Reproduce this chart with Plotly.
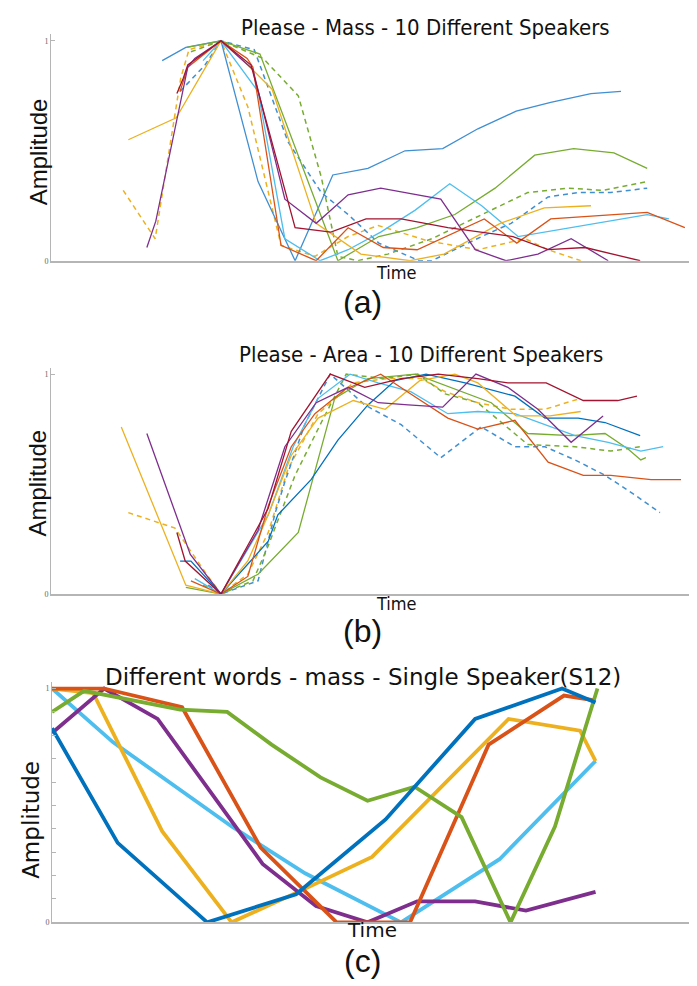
import plotly.graph_objects as go

# ---------------- Panel (a): Please - Mass ----------------
A_BLUE_T = [17.4, 21.1, 26.6, 32.4, 38.2, 44.1, 49.6, 55.4, 61.3, 66.8, 72.8, 78.2, 84.5, 89.2]
A_BLUE_Y = [0.91, 0.97, 1.0, 0.36, 0.0, 0.39, 0.42, 0.50, 0.51, 0.60, 0.68, 0.72, 0.76, 0.77]
A_RED_T = [20.2, 21.4, 26.6, 30.7, 31.6, 36.0, 41.5, 46.5, 52.0, 57.3, 67.8, 72.9, 78.2, 93.3, 99.2]
A_RED_Y = [0.77, 0.88, 1.0, 0.92, 0.88, 0.07, 0.0, 0.15, 0.06, 0.05, 0.19, 0.08, 0.19, 0.22, 0.15]
A_DARKRED_T = [19.7, 20.7, 21.4, 26.6, 31.3, 36.9, 38.2, 43.8, 49.3, 54.8, 62.1, 72.3, 77.8, 83.6, 92.2]
A_DARKRED_Y = [0.76, 0.83, 0.89, 1.0, 0.89, 0.28, 0.15, 0.13, 0.19, 0.19, 0.15, 0.11, 0.05, 0.06, 0.0]
A_PURPLE_T = [15.0, 16.4, 21.4, 22.5, 26.6, 31.6, 36.6, 41.5, 46.5, 51.6, 61.0, 66.4, 71.2, 76.2, 81.4, 87.2]
A_PURPLE_Y = [0.06, 0.18, 0.88, 0.92, 1.0, 0.87, 0.28, 0.17, 0.30, 0.33, 0.28, 0.05, 0.0, 0.03, 0.10, 0.0]
A_YELLOW_T = [12.1, 19.6, 26.6, 30.8, 34.6, 41.5, 48.5, 56.2, 61.5, 70.3, 77.2, 84.5]
A_YELLOW_Y = [0.55, 0.65, 1.0, 0.89, 0.78, 0.17, 0.03, 0.0, 0.03, 0.17, 0.24, 0.25]
A_CYAN_T = [23.8, 26.6, 32.4, 36.6, 42.1, 46.5, 51.6, 57.0, 62.4, 67.4, 73.1, 77.2, 93.3, 96.7]
A_CYAN_Y = [0.91, 1.0, 0.77, 0.10, 0.0, 0.05, 0.13, 0.23, 0.35, 0.25, 0.11, 0.13, 0.21, 0.19]
A_GREEN_T = [21.3, 26.6, 32.7, 44.9, 51.3, 57.3, 63.2, 69.5, 75.7, 81.8, 88.1, 93.3]
A_GREEN_Y = [0.97, 1.0, 0.94, 0.0, 0.11, 0.15, 0.21, 0.33, 0.48, 0.51, 0.49, 0.42]
A_YELLOW_D_T = [11.3, 16.3, 20.3, 21.6, 26.6, 30.8, 36.0, 41.3, 46.5, 51.2, 59.0, 66.8, 74.2, 77.8, 82.9]
A_YELLOW_D_Y = [0.32, 0.10, 0.83, 0.96, 1.0, 0.70, 0.07, 0.02, 0.11, 0.16, 0.09, 0.05, 0.10, 0.05, 0.0]
A_BLUE_D_T = [20.2, 24.1, 26.6, 31.8, 37.1, 42.3, 46.5, 51.3, 57.6, 59.6, 67.4, 72.0, 77.8, 82.5, 87.6, 93.3]
A_BLUE_D_Y = [0.77, 0.89, 1.0, 0.96, 0.54, 0.31, 0.21, 0.08, 0.0, 0.0, 0.11, 0.17, 0.29, 0.31, 0.31, 0.33]
A_GREEN_D_T = [21.9, 26.6, 33.2, 38.7, 42.3, 44.9, 48.0, 52.7, 59.6, 67.4, 74.6, 80.9, 86.4, 93.3]
A_GREEN_D_Y = [0.95, 1.0, 0.92, 0.75, 0.38, 0.02, 0.0, 0.03, 0.10, 0.21, 0.31, 0.33, 0.32, 0.36]

# ---------------- Panel (b): Please - Area ----------------
B_YELLOW_T = [11.0, 21.1, 26.6, 30.8, 34.0, 37.6, 41.8, 47.3, 52.3, 57.7, 63.2, 66.8, 72.8, 78.1, 82.9]
B_YELLOW_Y = [0.76, 0.04, 0.0, 0.15, 0.36, 0.63, 0.80, 0.88, 0.84, 0.97, 1.0, 0.96, 0.81, 0.81, 0.83]
B_PURPLE_T = [15.0, 21.8, 26.6, 32.4, 36.6, 41.5, 46.5, 51.2, 55.9, 61.3, 66.5, 71.5, 76.2, 81.4, 86.4]
B_PURPLE_Y = [0.73, 0.18, 0.0, 0.29, 0.67, 0.87, 0.94, 0.87, 0.86, 0.85, 1.0, 0.94, 0.84, 0.69, 0.81]
B_DARKRED_T = [19.7, 21.0, 26.6, 34.0, 37.6, 43.7, 49.1, 54.8, 60.6, 66.8, 71.5, 77.5, 83.3, 88.7, 91.7]
B_DARKRED_Y = [0.28, 0.15, 0.0, 0.39, 0.74, 1.0, 0.94, 0.98, 1.0, 0.98, 0.96, 0.96, 0.88, 0.88, 0.90]
B_BLUE_T = [20.2, 21.9, 26.6, 34.0, 35.5, 40.7, 44.9, 49.6, 53.8, 58.7, 64.8, 72.6, 77.3, 82.5, 86.7, 90.6, 92.2]
B_BLUE_Y = [0.15, 0.15, 0.0, 0.24, 0.36, 0.52, 0.70, 0.86, 0.97, 1.0, 0.96, 0.90, 0.80, 0.80, 0.78, 0.74, 0.72]
B_CYAN_T = [22.5, 26.6, 34.0, 37.9, 41.8, 46.8, 51.2, 56.3, 62.1, 66.8, 72.6, 77.3, 82.0, 87.2, 92.3, 95.8]
B_CYAN_Y = [0.07, 0.0, 0.36, 0.67, 0.89, 1.0, 0.96, 0.92, 0.82, 0.83, 0.82, 0.77, 0.72, 0.69, 0.65, 0.67]
B_RED_T = [21.9, 26.6, 30.8, 34.0, 37.6, 41.3, 46.0, 51.6, 56.3, 62.1, 66.8, 72.6, 77.8, 83.3, 87.6, 93.9, 98.6]
B_RED_Y = [0.06, 0.0, 0.08, 0.40, 0.67, 0.82, 0.93, 1.0, 0.91, 0.80, 0.75, 0.79, 0.60, 0.54, 0.54, 0.52, 0.52]
B_GREEN_T = [21.1, 26.6, 32.4, 38.7, 44.4, 49.6, 57.0, 66.8, 68.9, 74.6, 81.4, 86.7, 90.3, 92.3, 93.1]
B_GREEN_Y = [0.03, 0.0, 0.09, 0.28, 0.89, 0.98, 1.0, 0.89, 0.87, 0.73, 0.72, 0.73, 0.66, 0.61, 0.62]
B_YELLOW_D_T = [12.1, 19.4, 24.1, 26.6, 30.8, 34.0, 37.1, 41.8, 47.3, 52.7, 57.9, 61.7, 66.8, 72.0, 77.3, 82.9]
B_YELLOW_D_Y = [0.37, 0.30, 0.10, 0.0, 0.09, 0.28, 0.57, 0.82, 0.96, 0.98, 0.98, 0.92, 0.87, 0.84, 0.84, 0.89]
B_BLUE_D_T = [24.6, 26.6, 32.4, 35.1, 36.6, 39.7, 43.7, 49.1, 54.8, 61.0, 67.3, 72.6, 77.3, 82.0, 86.7, 91.4, 95.3]
B_BLUE_D_Y = [0.04, 0.0, 0.06, 0.37, 0.51, 0.77, 1.0, 0.86, 0.77, 0.62, 0.76, 0.67, 0.67, 0.61, 0.54, 0.45, 0.37]
B_GREEN_D_T = [23.8, 26.6, 31.6, 34.0, 38.2, 42.3, 46.2, 52.0, 57.4, 61.7, 66.8, 74.6, 82.0, 87.6, 92.3]
B_GREEN_D_Y = [0.04, 0.0, 0.06, 0.22, 0.54, 0.78, 1.0, 0.98, 1.0, 0.91, 0.87, 0.68, 0.67, 0.65, 0.67]

# ---------------- Panel (c): Different words - mass - S12 ----------------
C_BLUE_T = [0, 10.2, 24.1, 37.9, 51.8, 65.7, 79.2, 84.4]
C_BLUE_Y = [0.83, 0.34, 0.0, 0.12, 0.44, 0.87, 1.0, 0.94]
C_RED_T = [0, 8.1, 20.2, 32.4, 44.2, 55.6, 67.8, 79.5, 84.0]
C_RED_Y = [1.0, 1.0, 0.92, 0.32, 0.0, 0.0, 0.76, 0.97, 0.95]
C_YELLOW_T = [0, 6.4, 17.1, 27.9, 39.0, 49.7, 70.9, 82.0, 84.4]
C_YELLOW_Y = [1.0, 0.98, 0.39, 0.0, 0.14, 0.28, 0.87, 0.82, 0.69]
C_PURPLE_T = [0, 8.1, 16.4, 32.7, 41.0, 49.0, 56.7, 65.7, 73.6, 81.9, 84.4]
C_PURPLE_Y = [0.81, 1.0, 0.87, 0.25, 0.07, 0.0, 0.09, 0.09, 0.05, 0.11, 0.13]
C_GREEN_T = [0, 5.0, 19.9, 27.2, 34.1, 41.7, 49.0, 56.3, 63.6, 71.2, 78.1, 84.7]
C_GREEN_Y = [0.90, 0.99, 0.91, 0.90, 0.76, 0.62, 0.52, 0.58, 0.45, 0.0, 0.41, 1.0]
C_CYAN_T = [0, 9.5, 27.9, 39.3, 54.2, 69.5, 84.4]
C_CYAN_Y = [1.0, 0.77, 0.41, 0.21, 0.0, 0.27, 0.69]

TITLES = ["Please - Mass - 10 Different Speakers",
          "Please - Area - 10 Different Speakers",
          "Different words - mass - Single Speaker(S12)"]
PANEL_LABELS = ["(a)", "(b)", "(c)"]

BLUE, RED, YELLOW, PURPLE = "#0072BD", "#D95319", "#EDB120", "#7E2F8E"
GREEN, CYAN, DARKRED = "#77AC30", "#4DBEEE", "#A2142F"
LBLUE = "#3f8fd2"

fig = go.Figure()

def add(t, y, color, ax, width=1.3, dash="solid"):
    fig.add_trace(go.Scatter(x=t, y=y, mode="lines", xaxis="x" + ax, yaxis="y" + ax,
                             line=dict(color=color, width=width, dash=dash),
                             hoverinfo="skip", showlegend=False))

DASH = "5px,4px"
# panel a
add(A_YELLOW_D_T, A_YELLOW_D_Y, YELLOW, "", 1.5, DASH)
add(A_BLUE_D_T, A_BLUE_D_Y, LBLUE, "", 1.5, DASH)
add(A_GREEN_D_T, A_GREEN_D_Y, GREEN, "", 1.5, DASH)
add(A_BLUE_T, A_BLUE_Y, LBLUE, "")
add(A_GREEN_T, A_GREEN_Y, GREEN, "")
add(A_CYAN_T, A_CYAN_Y, CYAN, "")
add(A_YELLOW_T, A_YELLOW_Y, YELLOW, "")
add(A_RED_T, A_RED_Y, RED, "")
add(A_PURPLE_T, A_PURPLE_Y, PURPLE, "")
add(A_DARKRED_T, A_DARKRED_Y, DARKRED, "")
# panel b
add(B_YELLOW_D_T, B_YELLOW_D_Y, YELLOW, "2", 1.5, DASH)
add(B_BLUE_D_T, B_BLUE_D_Y, LBLUE, "2", 1.5, DASH)
add(B_GREEN_D_T, B_GREEN_D_Y, GREEN, "2", 1.5, DASH)
add(B_GREEN_T, B_GREEN_Y, GREEN, "2")
add(B_CYAN_T, B_CYAN_Y, CYAN, "2")
add(B_BLUE_T, B_BLUE_Y, BLUE, "2")
add(B_YELLOW_T, B_YELLOW_Y, YELLOW, "2")
add(B_RED_T, B_RED_Y, RED, "2")
add(B_PURPLE_T, B_PURPLE_Y, PURPLE, "2")
add(B_DARKRED_T, B_DARKRED_Y, DARKRED, "2")
# panel c
for t, y, c in [(C_CYAN_T, C_CYAN_Y, CYAN), (C_YELLOW_T, C_YELLOW_Y, YELLOW),
                (C_PURPLE_T, C_PURPLE_Y, PURPLE), (C_RED_T, C_RED_Y, RED),
                (C_GREEN_T, C_GREEN_Y, GREEN), (C_BLUE_T, C_BLUE_Y, BLUE)]:
    add(t, y, c, "3", 3.8)

W, H = 697, 986
def py(p):  # pixel row -> paper
    return 1 - p / H
def px(p):
    return p / W

axis_common = dict(showgrid=False, zeroline=False, showline=True, linecolor="#b5b5b5")
tickfont = dict(family="Liberation Serif, serif", size=8, color="#666")

layout = dict(width=W, height=H, margin=dict(l=0, r=0, t=0, b=0),
              paper_bgcolor="white", plot_bgcolor="white", showlegend=False)

# panel geometry: (x0, x1, y_zero_px, y_one_px)
geo = [(43, 682, 254, 33), (43, 682, 589, 368), (44, 688, 919, 684)]
for i, (x0, x1, y0, y1) in enumerate(geo):
    sfx = "" if i == 0 else str(i + 1)
    top = 1.03
    ytop_px = y0 - (y0 - y1) * top
    layout["xaxis" + sfx] = dict(axis_common, domain=[px(x0), px(x1)], range=[0, 100],
                                 showticklabels=False, ticks="", linewidth=2,
                                 anchor="y" + sfx)
    if i < 2:
        tv, tt = [0, 1], ["0", "1"]
    else:
        tv = [k / 10 for k in range(11)]
        tt = ["0"] + [""] * 9 + ["1"]
    layout["yaxis" + sfx] = dict(axis_common, domain=[py(y0), py(ytop_px)], range=[0, top],
                                 tickvals=tv, ticktext=tt, ticks="inside", ticklen=4,
                                 tickcolor="#b5b5b5", tickfont=tickfont, linewidth=1,
                                 anchor="x" + sfx)

ann = []
narrow = "Liberation Sans Narrow, DejaVu Sans Condensed, Arial Narrow, sans-serif"
# titles
ann.append(dict(text=TITLES[0], x=px(417), y=py(20), font=dict(family=narrow, size=22, color="#111")))
ann.append(dict(text=TITLES[1], x=px(413), y=py(348), font=dict(family=narrow, size=22, color="#111")))
ann.append(dict(text=TITLES[2], x=px(355), y=py(672), font=dict(family="DejaVu Sans, sans-serif", size=23, color="#111")))
# Amplitude labels
ann.append(dict(text="Amplitude", x=px(30), y=py(145), textangle=-90, font=dict(family="Liberation Sans, Arial, sans-serif", size=24, color="#111")))
ann.append(dict(text="Amplitude", x=px(30), y=py(478), textangle=-90, font=dict(family="Liberation Sans, Arial, sans-serif", size=24, color="#111")))
ann.append(dict(text="Amplitude", x=px(23), y=py(816), textangle=-90, font=dict(family="DejaVu Sans, sans-serif", size=23, color="#111")))
# Time labels
ann.append(dict(text="Time", x=px(388), y=py(266), font=dict(family=narrow, size=18, color="#111")))
ann.append(dict(text="Time", x=px(388), y=py(599), font=dict(family=narrow, size=18, color="#111")))
ann.append(dict(text="Time", x=px(364), y=py(927), font=dict(family="DejaVu Sans, sans-serif", size=20, color="#111")))
# panel letters
ann.append(dict(text=PANEL_LABELS[0], x=px(355), y=py(295), font=dict(family="Liberation Sans, Arial, sans-serif", size=32, color="#111")))
ann.append(dict(text=PANEL_LABELS[1], x=px(355), y=py(626), font=dict(family="Liberation Sans, Arial, sans-serif", size=32, color="#111")))
ann.append(dict(text=PANEL_LABELS[2], x=px(355), y=py(958), font=dict(family="Liberation Sans, Arial, sans-serif", size=32, color="#111")))
for a in ann:
    a.update(xref="paper", yref="paper", showarrow=False, xanchor="center", yanchor="middle")
layout["annotations"] = ann

fig.update_layout(**layout)
fig.write_html("out.html")
